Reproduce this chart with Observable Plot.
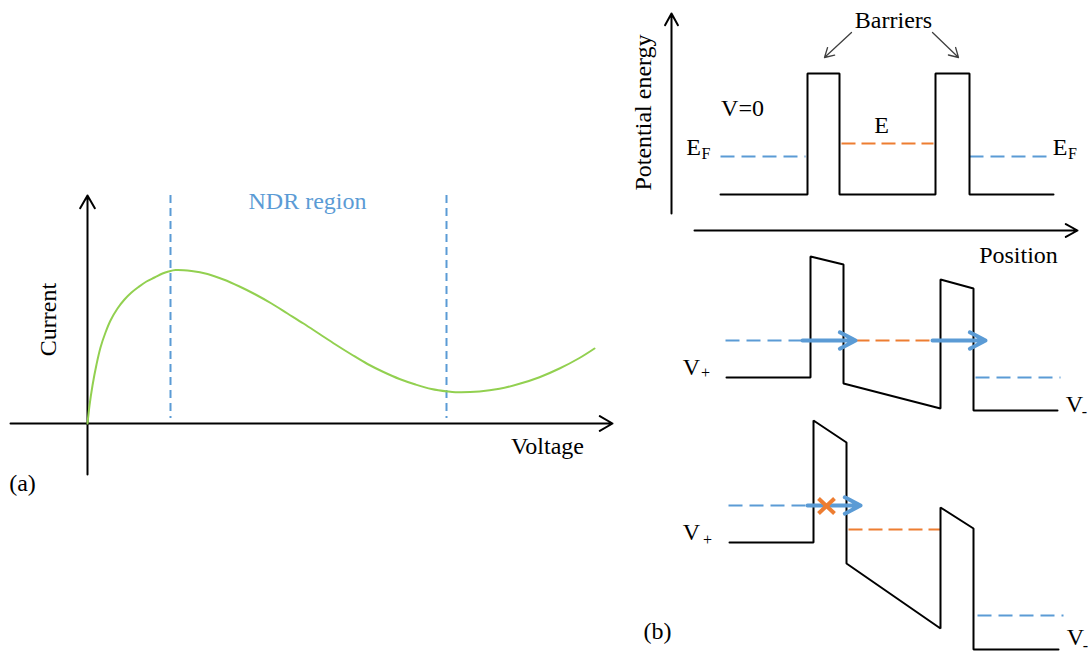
<!DOCTYPE html>
<html>
<head>
<meta charset="utf-8">
<script src="https://cdn.jsdelivr.net/npm/d3@7"></script>
<script src="https://cdn.jsdelivr.net/npm/@observablehq/plot@0.6"></script>
<style>
  html, body { margin: 0; padding: 0; background: #fff; }
  #chart svg { display: block; }
  #chart svg text { font-family: "Liberation Serif", "Times New Roman", serif; }
</style>
</head>
<body>
<div id="chart"></div>
<script>
// ---------- Panel (a): I–V curve with NDR region (figure units) ----------
const ivX = [87,89,92,96,100,105,110,117,124,131,138,146,154,162,168,175,191,207,223,239,255,271,287,303,319,335,351,367,383,399,415,431,447,455,479,499,519,539,559,579,594];
const ivY = [423,405,385,364,347,332,320,308,299,292,286.5,281,277,273,271,269.5,270.5,273.5,279,286,294,303,313,323,333.5,344,354,363.5,371.5,378.5,384,388.5,391,391.7,391,388.3,383.3,376.7,368,357.5,348];
const axesA = [[10,423,612,423],[87,474,87,195]];          // x1,y1,x2,y2
const ndrX = [170, 446];
const ndrSpan = [195, 418];

// ---------- Panel (b): double-barrier potential profiles ----------
const axesB = [[671,213,671,13],[694,230,1077,230]];
const barrierPointers = [[851,32,824,57],[932,32,958,57]];
const profileEq  = [[720,194],[807,194],[807,73],[839,73],[839,194],[935,194],[935,73],[969,73],[969,194],[1053,194]];
const profileRes = [[726,377],[810,377],[810,256],[843,264],[843,383],[940,408],[940,279],[973,288],[973,410],[1057,410]];
const profileOff = [[729,542],[813,542],[813,420],[846,442],[846,563],[940,628],[940,507],[973,528],[973,649],[1058,649]];
const fermiLevels = [[720,156,805,156],[969,156,1048,156],[725,340,802,340],[975,377,1060,377],[728,505,807,505],[977,615,1063,615]];
const wellLevels  = [[841,143,933,143],[855,340,932,340],[848,529,940,529]];
const tunnelArrows = [[802,340,855,340],[932,340,985,340],[807,505,860,505]];
const blockedMark = [[818,498,834,513],[818,513,834,498]];

// ---------- Text ----------
const labels = [
  ["Voltage", 547, 446], ["(a)", 22, 483],
  ["Barriers", 893, 19.5], ["V=0", 742, 108], ["E", 881, 125],
  ["Position", 1018, 255], ["(b)", 657, 631],
  ["E", 693, 147], ["E", 1059.5, 147],
  ["V", 691, 367], ["V", 1074, 404], ["V", 691, 532], ["V", 1075, 637]
];
const rotatedLabels = [["Current", 48, 319], ["Potential energy", 643, 112]];
const subscripts = [["F", 705.5, 153.5], ["F", 1072, 153.5], ["+", 705, 372], ["+", 707, 539], ["-", 1084, 411], ["-", 1085, 645]];
const regionLabel = [["NDR region", 307, 201]];

const blue = "#5b9bd5", orange = "#ed7d31", green = "#92d050";
const serif = "Liberation Serif";

const ivData = ivX.map((x, i) => ({x, y: ivY[i]}));
const ndrData = ndrX.map(x => ({x, y1: ndrSpan[0], y2: ndrSpan[1]}));
const profiles = [
  ...profileEq.map(p => ({s: "eq", x: p[0], y: p[1]})),
  ...profileRes.map(p => ({s: "res", x: p[0], y: p[1]})),
  ...profileOff.map(p => ({s: "off", x: p[0], y: p[1]}))
];
const seg = {x1: d => d[0], y1: d => d[1], x2: d => d[2], y2: d => d[3]};
const txt = {text: d => d[0], x: d => d[1], y: d => d[2], fontFamily: serif};

const chart = Plot.plot({
  width: 1089,
  height: 653,
  margin: 0,
  x: {domain: [0, 1089], axis: null},
  y: {domain: [653, 0], axis: null},
  style: {fontFamily: serif, background: "#fff", overflow: "visible"},
  marks: [
    // Panel (a)
    Plot.ruleX(ndrData, {x: "x", y1: "y1", y2: "y2", stroke: blue, strokeWidth: 2, strokeDasharray: "8,5"}),
    Plot.arrow(axesA, {...seg, stroke: "black", strokeWidth: 2, headLength: 11, headAngle: 60}),
    Plot.line(ivData, {x: "x", y: "y", curve: "catmull-rom", stroke: green, strokeWidth: 2}),
    Plot.text(regionLabel, {...txt, fontSize: 24, fill: blue}),

    // Panel (b)
    Plot.arrow(axesB, {...seg, stroke: "black", strokeWidth: 2, headLength: 10, headAngle: 58}),
    Plot.arrow(barrierPointers, {...seg, stroke: "#404040", strokeWidth: 1.3, headLength: 12, headAngle: 60}),
    Plot.link(fermiLevels, {...seg, stroke: blue, strokeWidth: 2, strokeDasharray: "14,7"}),
    Plot.link(wellLevels, {...seg, stroke: orange, strokeWidth: 2, strokeDasharray: "14,6"}),
    Plot.line(profiles, {x: "x", y: "y", z: "s", stroke: "black", strokeWidth: 2, strokeLinejoin: "miter"}),
    Plot.arrow(tunnelArrows, {...seg, stroke: blue, strokeWidth: 4, headLength: 7, headAngle: 55, strokeLinecap: "round", strokeLinejoin: "round"}),
    Plot.link(blockedMark, {...seg, stroke: orange, strokeWidth: 4}),

    // Text
    Plot.text(labels, {...txt, fontSize: 24, fill: "black"}),
    Plot.text(rotatedLabels, {...txt, fontSize: 24, fill: "black", rotate: -90}),
    Plot.text(subscripts, {...txt, fontSize: 16, fill: "black"})
  ]
});
document.getElementById("chart").appendChild(chart);
</script>
</body>
</html>
